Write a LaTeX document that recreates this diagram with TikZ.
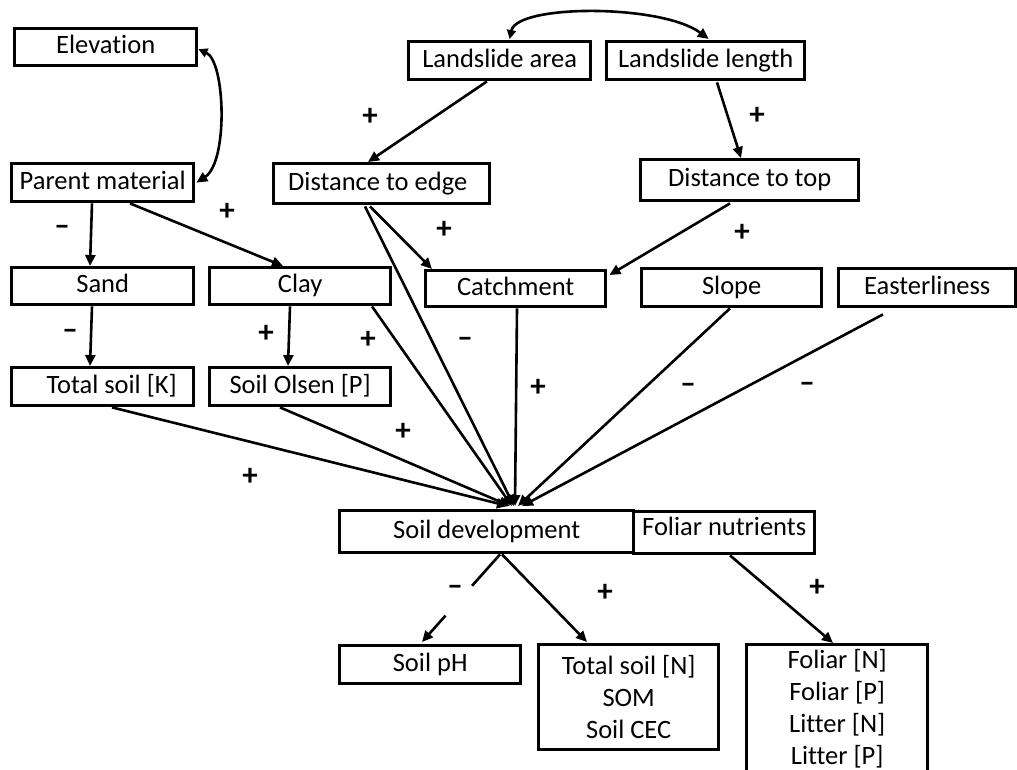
\documentclass[tikz,border=0pt]{standalone}
\usepackage{fontspec}
\setmainfont{Carlito}[RawFeature={-liga,-clig}]
\usetikzlibrary{arrows.meta,calc}
\newcommand{\bodyfnt}{\fontsize{26.5}{32}\selectfont}
\newcommand{\signfnt}{\fontsize{31}{32}\selectfont\bfseries}
\tikzset{
  box/.style={draw, line width=3.4pt, inner sep=0pt, anchor=north west, font=\bodyfnt, text height=18.5pt, text depth=5.3pt},
  conn/.style={line width=2.6pt, -{Triangle[length=11pt,width=10pt]}},
  biconn/.style={line width=2.6pt, {Triangle[length=9pt,width=9pt]}-{Triangle[length=11pt,width=10pt]}},
  sign/.style={font=\signfnt, inner sep=0pt}
}
\begin{document}
\begin{tikzpicture}[x=1pt,y=-1pt]
\useasboundingbox (0,0) rectangle (1017,770);
\clip (0,0) rectangle (1017,770);
% boxes
\node[box, minimum width=182pt, minimum height=37pt] (elev) at (13,27) {Elevation};
\node[box, minimum width=182pt, minimum height=38pt] (parent) at (10,162) {Parent material};
\node[box, minimum width=182pt, minimum height=38pt] (larea) at (407,40) {Landslide area};
\node[box, minimum width=198pt, minimum height=38pt] (llength) at (605,40) {Landslide length};
\node[box, minimum width=216pt, minimum height=40pt] (dedge) at (272,162) {Distance to edge\hspace*{8pt}};
\node[box, minimum width=218pt, minimum height=41pt] (dtop) at (639,158) {Distance to top};
\node[box, minimum width=182pt, minimum height=37pt] (sand) at (10,266) {Sand};
\node[box, minimum width=181pt, minimum height=37pt] (clay) at (208,266) {Clay};
\node[box, minimum width=180pt, minimum height=36pt] (catch) at (424,269) {Catchment};
\node[box, minimum width=180pt, minimum height=38pt] (slope) at (640,267) {Slope};
\node[box, minimum width=177pt, minimum height=38pt] (east) at (837,267) {Easterliness};
\node[box, minimum width=182pt, minimum height=38pt] (soilk) at (10,366) {\hspace*{18pt}Total soil [K]};
\node[box, minimum width=181pt, minimum height=38pt] (olsen) at (208,366) {Soil Olsen [P]};
\node[box, minimum width=294pt, minimum height=42pt] (soildev) at (338,509) {Soil development};
\node[box, minimum width=181pt, minimum height=42pt] (foliarnut) at (632,510) {\raisebox{4pt}{Foliar nutrients}};
\node[box, minimum width=181pt, minimum height=38pt] (ph) at (338,644) {Soil pH};
\node[box, minimum width=180pt, minimum height=105pt, align=center, text height=, text depth=] (totn) at (537,643) {Total soil [N]\\SOM\\Soil CEC};
\node[box, minimum width=181pt, minimum height=160pt] (foliar) at (745,643) {};
\node[font=\bodyfnt, align=center, anchor=north, inner sep=0pt] (foliartext) at ($(foliar.north)+(0,6)$) {Foliar [N]\\Foliar [P]\\Litter [N]\\Litter [P]};
% curved two-way links
\draw[biconn] ($(elev.east)+(0,2)$) .. controls ($(elev.east)+(27,14)$) and ($(parent.east)+(33,-21)$) .. ($(parent.east)+(1,0)$);
\draw[biconn] ($(larea.north)+(10,-1)$) .. controls ($(larea.north)+(17,-36)$) and ($(llength.north)+(-44,-36)$) .. ($(llength.north)+(3,-1)$);
% connectors
\draw[conn] ($(larea.south west)+(80,0)$) -- ($(dedge.north west)+(96,0)$);
\draw[conn] ($(llength.south west)+(112,1)$) -- ($(dtop.north west)+(102,0)$);
\draw[conn] ($(parent.south west)+(82,0)$) -- ($(sand.north west)+(80,0)$);
\draw[conn] ($(parent.south west)+(120,0)$) -- ($(clay.north west)+(75,0)$);
\draw[conn] ($(sand.south west)+(82,0)$) -- ($(soilk.north west)+(80,0)$);
\draw[conn] ($(clay.south west)+(82,0)$) -- ($(olsen.north west)+(80,0)$);
\draw[conn] ($(dedge.south west)+(98,1)$) -- ($(catch.north west)+(8,0)$);
\draw[conn] ($(dtop.south west)+(91,1)$) -- ($(catch.north east)+(2,6)$);
\draw[conn] ($(dedge.south west)+(93,1)$) -- ($(soildev.north west)+(176,-3)$);
\draw[conn] ($(clay.south west)+(164,0)$) -- ($(soildev.north west)+(174,-3)$);
\draw[conn] ($(olsen.south west)+(72,0)$) -- ($(soildev.north west)+(172,-3)$);
\draw[conn] ($(soilk.south west)+(102,0)$) -- ($(soildev.north west)+(170,-3)$);
\draw[conn] ($(catch.south west)+(93,0)$) -- ($(soildev.north west)+(177,-3)$);
\draw[conn] ($(slope.south west)+(90,0)$) -- ($(soildev.north west)+(180,-3)$);
\draw[conn] ($(east.south west)+(46,6)$) -- ($(soildev.north west)+(184,-3)$);
\draw[conn, dash pattern=on 42pt off 40pt on 100pt] ($(soildev.south west)+(162,0)$) -- ($(ph.north west)+(84,-2)$);
\draw[conn] ($(soildev.south west)+(164,0)$) -- ($(totn.north west)+(50,-1)$);
\draw[conn] ($(foliarnut.south west)+(98,0)$) -- ($(foliar.north west)+(88,0)$);
% signs
\node[sign] (s1) at (62,230) {–};
\node[sign] (s2) at (227,212) {+};
\node[sign] (s3) at (370,117) {+};
\node[sign] (s4) at (757,116) {+};
\node[sign] (s5) at (444,230) {+};
\node[sign] (s6) at (742,233) {+};
\node[sign] (s7) at (70,334) {–};
\node[sign] (s8) at (266,334) {+};
\node[sign] (s9) at (368,340) {+};
\node[sign] (s10) at (403,432) {+};
\node[sign] (s11) at (250,477) {+};
\node[sign] (s12) at (465,342) {–};
\node[sign] (s13) at (538,388) {+};
\node[sign] (s14) at (688,388) {–};
\node[sign] (s15) at (807,387) {–};
\node[sign] (s16) at (455,590) {–};
\node[sign] (s17) at (605,593) {+};
\node[sign] (s18) at (817,588) {+};
\end{tikzpicture}
\end{document}
